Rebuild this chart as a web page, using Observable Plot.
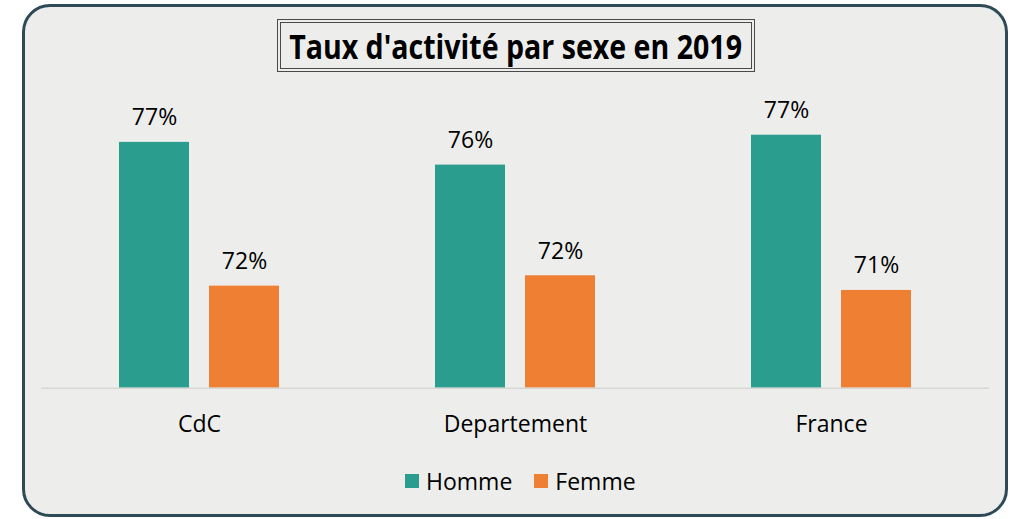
<!DOCTYPE html>
<html>
<head>
<meta charset="utf-8">
<script src="https://cdn.jsdelivr.net/npm/d3@7"></script>
<script src="https://cdn.jsdelivr.net/npm/@observablehq/plot@0.6"></script>
<style>
  html, body { margin: 0; padding: 0; background: #ffffff; }
  #wrap { position: relative; width: 1012px; height: 519px; overflow: hidden; font-family: "Open Sans", sans-serif; }
  #card { position: absolute; left: 22px; top: 4px; width: 986px; height: 513px; box-sizing: border-box;
          border: 3px solid #2E4A57; border-radius: 28px; background: #EDEEEC; }
  #title { position: absolute; left: 277px; top: 19px; width: 478px; height: 53px; box-sizing: border-box;
           border: 4px double #4a4a4a; display: flex; align-items: center; justify-content: center; }
  #title span { display: inline-block; font-family: "Open Sans", sans-serif; font-weight: 700; font-size: 34px;
                color: #000; transform: scaleX(0.84); white-space: nowrap; line-height: 1; }
  #chart { position: absolute; left: 0; top: 0; }
  #legend { position: absolute; top: 465px; left: 405px; display: flex; justify-content: flex-start;
            font-size: 23px; color: #000; }
  .item { display: flex; align-items: center; }
  .item + .item { margin-left: 22px; }
  .sw { width: 14px; height: 14px; margin-right: 7px; }
</style>
</head>
<body>
<div id="wrap">
  <div id="card"></div>
  <div id="title"><span>Taux d'activité par sexe en 2019</span></div>
  <div id="chart"></div>
  <div id="legend"></div>
</div>
<script>
const categories = ["CdC", "Departement", "France"];
const series = ["Homme", "Femme"];
const homme = [0.7655, 0.7576, 0.768];
const femme = [0.7155, 0.7191, 0.714];
const colors = ["#2A9D8F", "#EE7F33"];
const yDomain = [0.68, 0.78];

const data = [];
categories.forEach((c, i) => {
  data.push({cat: c, sex: series[0], value: homme[i]});
  data.push({cat: c, sex: series[1], value: femme[i]});
});

const fmt = d3.format(".0%");

const chart = Plot.plot({
  width: 1012,
  height: 440,
  marginLeft: 40,
  marginRight: 22,
  marginTop: 100.2,
  marginBottom: 52.3,
  style: {background: "transparent", fontFamily: "Open Sans, sans-serif", fontSize: "23px", color: "#000", overflow: "visible"},
  fx: {domain: categories, padding: 0, label: null, axis: "bottom", tickSize: 0, tickPadding: 27},
  x: {domain: series, paddingInner: 0.22, paddingOuter: 0.86, axis: null},
  y: {domain: yDomain, axis: null},
  color: {domain: series, range: colors},
  marks: [
    Plot.barY(data, {fx: "cat", x: "sex", y1: yDomain[0], y2: "value", fill: "sex"}),
    Plot.ruleY([yDomain[0]], {stroke: "#D6D7D5", strokeWidth: 1.5}),
    Plot.text(data, {fx: "cat", x: "sex", y: "value", text: d => fmt(d.value), lineAnchor: "bottom", dy: -17, fontSize: 23, fill: "#000"})
  ]
});
document.getElementById("chart").appendChild(chart);

const legend = document.getElementById("legend");
series.forEach((s, i) => {
  const item = document.createElement("div");
  item.className = "item";
  const sw = document.createElement("div");
  sw.className = "sw";
  sw.style.background = colors[i];
  const lab = document.createElement("span");
  lab.textContent = s;
  item.appendChild(sw);
  item.appendChild(lab);
  legend.appendChild(item);
});
</script>
</body>
</html>
